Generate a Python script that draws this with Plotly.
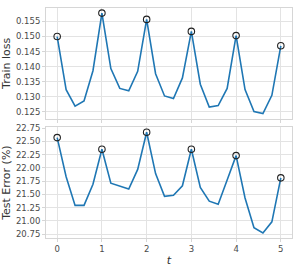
import plotly.graph_objects as go
from plotly.subplots import make_subplots

t = [i / 5 for i in range(26)]
train_loss = [0.1500, 0.1323, 0.1268, 0.1285, 0.1386, 0.1578, 0.1393, 0.1327, 0.1319, 0.1384,
              0.1557, 0.1376, 0.1302, 0.1293, 0.1362, 0.1517, 0.1341, 0.1265, 0.1270, 0.1327,
              0.1503, 0.1323, 0.1250, 0.1243, 0.1304, 0.1469]
test_error = [22.57, 21.83, 21.29, 21.29, 21.69, 22.35, 21.71, 21.66, 21.60, 21.97,
              22.67, 21.89, 21.46, 21.48, 21.66, 22.35, 21.63, 21.37, 21.31, 21.77,
              22.23, 21.43, 20.87, 20.77, 20.98, 21.81]
x_ticks = [0, 1, 2, 3, 4, 5]
train_ticks = [0.125, 0.130, 0.135, 0.140, 0.145, 0.150, 0.155]
test_ticks = [20.75, 21.00, 21.25, 21.50, 21.75, 22.00, 22.25, 22.50, 22.75]

line_color = "#1f77b4"
grid = "#e3e3e3"
font = "DejaVu Sans"

fig = make_subplots(rows=2, cols=1, shared_xaxes=True, vertical_spacing=0.037)

for row, ys in ((1, train_loss), (2, test_error)):
    fig.add_trace(go.Scatter(x=t, y=ys, mode="lines",
                             line=dict(color=line_color, width=1.6),
                             showlegend=False), row=row, col=1)
    fig.add_trace(go.Scatter(x=t[::5], y=ys[::5], mode="markers",
                             marker=dict(symbol="circle-open", color="#222222", size=6.5,
                                         line=dict(width=1.1)),
                             showlegend=False), row=row, col=1)

axis_common = dict(showline=True, mirror=True, linecolor="#d6d6d6", linewidth=1,
                   showgrid=True, gridcolor=grid, gridwidth=1, zeroline=False,
                   ticks="outside", ticklen=3, tickcolor="#d6d6d6",
                   tickfont=dict(family=font, size=8.5, color="#4a4a4a"))

title_font = dict(family=font, size=11, color="#333333")

fig.update_xaxes(range=[-0.25, 5.25], tickvals=x_ticks, **axis_common)
fig.update_xaxes(title=dict(text="<i>t</i>", font=title_font, standoff=3), row=2, col=1)
fig.update_yaxes(range=[0.1226, 0.1595], tickvals=train_ticks, tickformat=".3f",
                 title=dict(text="Train loss", font=title_font, standoff=4),
                 row=1, col=1, **axis_common)
fig.update_yaxes(range=[20.675, 22.765], tickvals=test_ticks, tickformat=".2f",
                 title=dict(text="Test Error (%)", font=title_font, standoff=4),
                 row=2, col=1, **axis_common)

fig.update_layout(width=297, height=269, margin=dict(l=43, r=4, t=4, b=30),
                  plot_bgcolor="white", paper_bgcolor="white")

fig.write_html("out.html")
